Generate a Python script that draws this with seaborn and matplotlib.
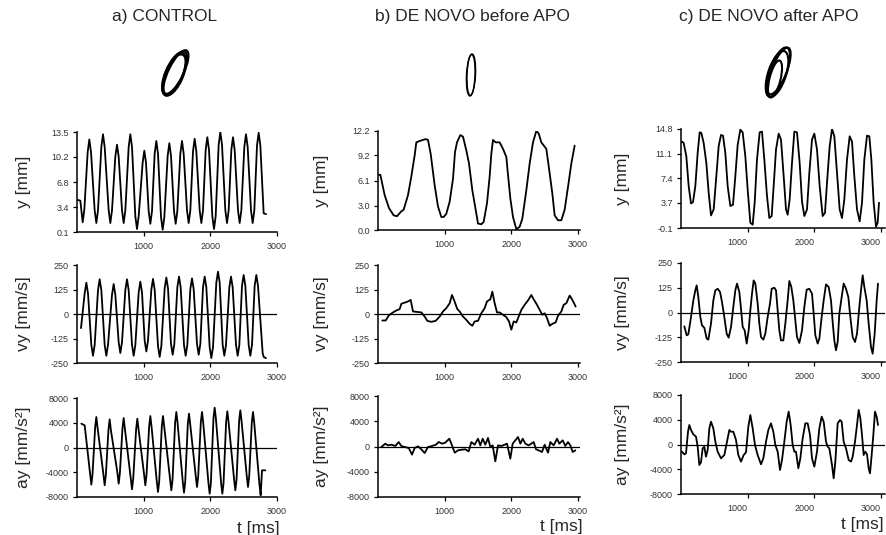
import matplotlib
matplotlib.use("Agg")
import matplotlib.pyplot as plt
from matplotlib.patches import Ellipse
import seaborn as sns

# ---------------- recorded signals (t in ms) ----------------
# a) CONTROL
A_Y_T = [10, 50, 85, 110, 160, 185, 210, 265, 290, 315, 365, 390, 415, 475, 500, 525, 575, 600, 625,
         675, 700, 725, 775, 800, 825, 875, 900, 925, 985, 1010, 1035, 1075, 1100, 1125, 1165, 1190,
         1215, 1260, 1285, 1310, 1360, 1385, 1410, 1455, 1480, 1505, 1550, 1575, 1600, 1650, 1675,
         1700, 1740, 1765, 1790, 1840, 1865, 1890, 1930, 1955, 1980, 2030, 2055, 2080, 2125, 2150,
         2175, 2225, 2250, 2275, 2315, 2340, 2365, 2415, 2440, 2465, 2510, 2535, 2560, 2610, 2635,
         2660, 2700, 2725, 2750, 2800, 2835]
A_Y = [4.4, 4.3, 1.4, 3.1, 10.8, 12.5, 10.8, 3.0, 1.3, 3.0, 11.5, 13.2, 11.5, 3.0, 1.3, 3.0, 10.2,
       11.8, 10.2, 3.0, 1.3, 3.0, 11.5, 13.2, 11.5, 2.2, 0.5, 2.2, 9.4, 11.0, 9.4, 2.9, 1.2, 2.9,
       10.6, 12.3, 10.6, 2.1, 0.4, 2.1, 10.3, 12.0, 10.3, 2.9, 1.2, 2.9, 10.6, 12.3, 10.6, 3.0,
       1.3, 3.0, 10.9, 12.6, 10.9, 3.0, 1.3, 3.0, 11.1, 12.8, 11.1, 2.2, 0.5, 2.2, 11.8, 13.5,
       11.8, 3.0, 1.3, 3.0, 11.1, 12.8, 11.1, 3.0, 1.3, 3.0, 11.5, 13.2, 11.5, 3.0, 1.3,
       3.0, 11.7, 13.4, 11.7, 2.6, 2.5]

A_VY_T = [60, 115, 140, 165, 215, 240, 265, 315, 340, 365, 415, 440, 465, 525, 550, 575, 625, 650,
          675, 725, 750, 775, 825, 850, 875, 925, 950, 975, 1015, 1040, 1065, 1115, 1140, 1165, 1215,
          1240, 1265, 1315, 1340, 1365, 1410, 1435, 1460, 1505, 1530, 1555, 1605, 1630, 1655, 1700,
          1725, 1750, 1800, 1825, 1850, 1890, 1915, 1940, 1990, 2015, 2040, 2090, 2115, 2140, 2185,
          2210, 2235, 2285, 2310, 2335, 2385, 2410, 2435, 2475, 2500, 2525, 2575, 2600, 2625, 2665,
          2690, 2715, 2785, 2800, 2835]
A_VY = [-72, 105, 160, 105, -158, -213, -158, 122, 177, 122, -158, -213, -158, 98, 153, 98, -144,
        -199, -144, 122, 177, 122, -158, -213, -158, 110, 165, 110, -136, -191, -136, 124, 179,
        124, -164, -219, -164, 131, 186, 131, -153, -208, -153, 136, 191, 136, -158, -213, -158,
        127, 182, 127, -153, -208, -153, 136, 191, 136, -170, -225, -170, 161, 216, 161, -158,
        -213, -158, 136, 191, 136, -158, -213, -158, 144, 199, 144, -158, -213, -158, 144,
        199, 144, -200, -219, -225]

A_AY_T = [65, 115, 197, 215, 233, 272, 290, 308, 397, 415, 433, 472, 490, 508, 607, 625, 643, 682,
          700, 718, 807, 825, 843, 887, 905, 923, 1007, 1025, 1043, 1082, 1100, 1118, 1197, 1215,
          1233, 1272, 1290, 1308, 1397, 1415, 1433, 1472, 1490, 1508, 1587, 1605, 1623, 1662, 1680,
          1698, 1782, 1800, 1818, 1857, 1875, 1893, 1972, 1990, 2008, 2047, 2065, 2083, 2162, 2180,
          2198, 2237, 2255, 2273, 2357, 2375, 2393, 2432, 2450, 2468, 2547, 2565, 2583, 2622, 2640,
          2658, 2737, 2755, 2775, 2825]
A_AY = [3850, 3580, -4300, -6000, -4300, 3230, 4930, 3230, -4410, -6110, -4410, 2850, 4550, 2850,
        -4150, -5850, -4150, 3070, 4770, 3070, -5060, -6760, -5060, 2960, 4660, 2960, -4410, -6110,
        -4410, 3390, 5090, 3390, -5490, -7190, -5490, 3390, 5090, 3390, -5220, -6920, -5220, 4040,
        5740, 4040, -5600, -7300, -5600, 3770, 5470, 3770, -4680, -6380, -4680, 4040, 5740, 4040,
        -5760, -7460, -5760, 4740, 6440, 4740, -5760, -7460, -5760, 4150, 5850, 4150, -5220, -6920,
        -5220, 4310, 6010, 4310, -4680, -6380, -4680, 4040, 5740, 4040, -6000, -7730, -3690, -3690]

# b) DE NOVO before APO
B_Y_T = [10, 35, 100, 165, 235, 285, 350, 385, 450, 500, 550, 575, 635, 715, 750, 790, 850, 900,
         950, 985, 1025, 1075, 1125, 1155, 1185, 1235, 1275, 1325, 1365, 1415, 1465, 1500, 1550,
         1585, 1635, 1675, 1700, 1725, 1765, 1825, 1875, 1925, 1950, 1985, 2025, 2075, 2125, 2165,
         2225, 2275, 2325, 2375, 2410, 2450, 2525, 2565, 2615, 2650, 2700, 2750, 2800, 2850, 2900,
         2950]
B_Y = [6.8, 6.8, 4.3, 2.7, 1.8, 1.7, 2.3, 2.5, 4.3, 6.6, 9.2, 10.8, 11.0, 11.2, 11.1, 9.4, 5.5, 2.9,
       1.6, 1.6, 2.0, 3.5, 6.3, 9.6, 10.8, 11.7, 11.5, 9.8, 8.2, 4.9, 2.5, 0.8, 0.7,
       1.0, 3.3, 6.6, 9.4, 11.1, 10.8, 10.8, 10.0, 9.0, 6.8, 3.9, 1.6, 0.1, 0.4, 1.4,
       4.9, 8.2, 10.8, 12.2, 11.9, 10.8, 10.0, 7.6, 4.5, 1.8, 1.2, 1.2, 2.5, 5.3, 8.2,
       10.4]

B_VY_T = [65, 115, 165, 225, 275, 325, 350, 400, 450, 490, 525, 575, 650, 700, 740, 800, 865, 925,
          975, 1025, 1075, 1110, 1140, 1190, 1225, 1275, 1325, 1375, 1415, 1450, 1500, 1550, 1600,
          1635, 1685, 1715, 1750, 1785, 1825, 1875, 1925, 1965, 2000, 2035, 2075, 2115, 2150, 2200,
          2250, 2300, 2335, 2385, 2425, 2465, 2500, 2535, 2575, 2615, 2665, 2700, 2750, 2785, 2825,
          2875, 2915, 2965]
B_VY = [-33, -33, -6, 8, 18, 25, 52, 58, 64, 72, 13, 11, 8, -13, -35, -40, -35, -13,
        13, 30, 55, 97, 72, 25, 13, -13, -30, -50, -60, -38, -35, 4, 30,
        64, 75, 114, 55, 8, 8, -4, -16, -38, -80, -38, -43, -9, 21, 47,
        69, 97, 75, 47, 21, -4, 4, -21, -60, -50, -43, -9, 13, 47, 55,
        94, 72, 38]

B_AY_T = [50, 110, 150, 200, 260, 310, 350, 400, 460, 510, 550, 600, 650, 700, 750, 810, 870, 910,
          960, 1010, 1070, 1110, 1150, 1200, 1260, 1310, 1360, 1400, 1450, 1500, 1535, 1570, 1610,
          1650, 1685, 1720, 1760, 1800, 1850, 1900, 1935, 1985, 2020, 2060, 2100, 2135, 2170, 2210,
          2260, 2300, 2335, 2370, 2410, 2460, 2500, 2550, 2585, 2635, 2685, 2720, 2770, 2810, 2850,
          2885, 2920, 2960]
B_AY = [-80, 450, 180, 290, 80, 710, 80, -80, -240, -1290, -240, 30, -450, -1030, -80, 80, 290, 710,
        450, 610, 1240, 180, -980, -610, -500, -450, -770, 710, 290, 1240, 180, 1240, 290,
        1350, -80, 180, -2350, 180, 80, 290, 450, -1930, 450, 980, 1500, 450, 1240, 450,
        180, 450, 710, -450, -610, -870, 290, -980, 710, 180, 1240, 450, 980, 80, 710,
        180, -870, -610]

# c) DE NOVO after APO
C_Y_T = [15, 40, 80, 115, 150, 180, 215, 250, 280, 305, 340, 380, 415, 450, 490, 530, 565, 600, 630,
         665, 700, 740, 780, 815, 850, 890, 925, 965, 1000, 1040, 1075, 1105, 1140, 1180, 1215, 1250,
         1290, 1325, 1360, 1390, 1425, 1465, 1500, 1540, 1575, 1600, 1630, 1665, 1700, 1740, 1780,
         1815, 1850, 1890, 1925, 1965, 2000, 2040, 2080, 2125, 2160, 2190, 2230, 2265, 2300, 2340,
         2380, 2415, 2450, 2490, 2530, 2565, 2600, 2640, 2680, 2715, 2750, 2790, 2825, 2855, 2890,
         2925, 2950, 2970]
C_Y = [12.9, 12.7, 10.7, 6.2, 3.6, 3.8, 6.2, 11.2, 14.3, 14.2, 12.7, 9.7, 5.2, 1.8, 2.7, 7.7, 12.2,
       13.9, 13.8, 11.2, 6.2, 3.2, 3.4, 7.7, 12.4, 14.7, 14.3, 10.7, 5.7, 0.7, 0.4, 3.7, 10.2, 14.3,
       14.4, 10.2, 4.7, 1.4, 1.7, 6.2, 11.7, 14.1, 13.2, 7.7, 2.7, 1.9, 4.2, 9.7, 14.4, 14.3, 9.7,
       3.9, 1.7, 2.7, 8.2, 13.2, 14.1, 11.7, 6.2, 1.7, 2.2, 6.7, 12.2, 14.8, 13.7, 8.2, 2.7, 1.4,
       4.2, 10.2, 13.7, 12.9, 7.7, 2.7, 0.9, 3.7, 10.2, 13.8, 13.7, 10.2, 3.7, 0.1, 0.7, 3.7]

C_VY_T = [50, 85, 110, 150, 185, 215, 235, 260, 290, 315, 350, 385, 410, 450, 485, 515, 550, 585,
          615, 650, 685, 715, 750, 785, 815, 840, 875, 900, 925, 955, 985, 1015, 1040, 1065, 1090,
          1115, 1150, 1175, 1200, 1235, 1265, 1300, 1335, 1360, 1400, 1425, 1450, 1475, 1500, 1535,
          1565, 1600, 1625, 1655, 1685, 1715, 1740, 1775, 1815, 1850, 1885, 1925, 1965, 1990, 2015,
          2050, 2075, 2110, 2140, 2175, 2215, 2250, 2275, 2300, 2325, 2350, 2375, 2410, 2440, 2475,
          2510, 2540, 2575, 2610, 2640, 2675, 2700, 2725, 2750, 2785, 2815, 2850, 2875, 2905, 2935,
          2955]
C_VY = [-70, -115, -110, -23, 61, 112, 137, 78, -23, -65, -77, -132, -137, -56, 61, 112, 120, 104,
        53, -23, -107, -127, -73, 28, 112, 146, 104, 19, -73, -90, -157, -90, 11, 95, 162,
        146, 45, -56, -124, -137, -107, -23, 45, 120, 125, 112, 11, -90, -141, -141,
        -56, 61, 159, 129, 61, -40, -124, -154, -90, 28, 115, 120, 95, -6, -115,
        -157, -132, -23, 61, 142, 129, 61, -48, -141, -191, -149, -6, 78, 146, 120,
        78, -23, -124, -149, -107, 28, 112, 188, 129, 61, -56, -174, -208, -107, 61,
        146]

C_AY_T = [15, 50, 75, 105, 125, 150, 185, 225, 250, 275, 300, 325, 350, 375, 400, 425, 450, 485,
          515, 550, 600, 650, 690, 725, 750, 785, 825, 860, 900, 940, 975, 1010, 1040, 1075, 1110,
          1150, 1200, 1235, 1275, 1310, 1350, 1385, 1415, 1450, 1485, 1515, 1550, 1585, 1615, 1645,
          1675, 1700, 1725, 1760, 1790, 1825, 1865, 1900, 1935, 1965, 2000, 2040, 2075, 2110, 2140,
          2175, 2200, 2225, 2265, 2290, 2315, 2350, 2385, 2410, 2440, 2475, 2515, 2550, 2575, 2610,
          2640, 2665, 2690, 2715, 2740, 2765, 2790, 2815, 2835, 2860, 2885, 2910, 2935, 2955]
C_AY = [-1160, -1590, -1430, 2070, 3150, 2340, 1640, 1270, -350, -3310, -2880, -620, -350, -1970,
        -890, 2610, 3690, 2610, 460, -1160, -2240, -1700, 460, 2340, 2070, 2070, 730, -1700, -2770,
        -1700, -1270, 2880, 4770, 2610, -80, -1700, -3200, -2240, 460, 2340, 3420, 2070, -80, -1160,
        -4120, -2500, 460, 3690, 5310, 3150, -80, -1160, -1160, -3850, -2240, 1000, 3420, 3420, 1540,
        -2240, -3580, -1160, 2610, 4500, 3690, 460, -350, -620, -3310, -5470, -2770, 3420, 3960, 3690,
        460, -620, -2500, -2770, -1970, 460, 3150, 5580, 4230, 1540, -1700, -1160, -1590, -3850,
        -4660, -1700, 1540, 5310, 4500, 3150]

# ---------------- pen trajectories (ellipse loops, pixel units) ----------------
LOOP_A_CX = [175, 174, 176, 174]
LOOP_A_CY = [73, 74, 72, 75]
LOOP_A_W = [16, 17, 15, 18]
LOOP_A_H = [47, 46, 48, 44]
LOOP_A_ANG = [24, 22, 26, 23]

LOOP_B_CX = [471, 471]
LOOP_B_CY = [75, 75]
LOOP_B_W = [9, 8]
LOOP_B_H = [42, 41]
LOOP_B_ANG = [3, 2]

LOOP_C_CX = [778, 777, 775, 779]
LOOP_C_CY = [72, 74, 79, 71]
LOOP_C_W = [17, 18, 11, 15]
LOOP_C_H = [52, 48, 38, 50]
LOOP_C_ANG = [20, 18, 14, 22]

# ---------------- labels ----------------
TITLES = ["a) CONTROL", "b) DE NOVO before APO", "c) DE NOVO after APO"]
YLABELS = ["y [mm]", "vy [mm/s]", "ay [mm/s²]"]
XLABEL = "t [ms]"
X_TICKS = [1000, 2000, 3000]
Y_TICKLABELS = [
    [["0.1", "3.4", "6.8", "10.2", "13.5"], ["-250", "-125", "0", "125", "250"],
     ["-8000", "-4000", "0", "4000", "8000"]],
    [["0.0", "3.0", "6.1", "9.2", "12.2"], ["-250", "-125", "0", "125", "250"],
     ["-8000", "-4000", "0", "4000", "8000"]],
    [["-0.1", "3.7", "7.4", "11.1", "14.8"], ["-250", "-125", "0", "125", "250"],
     ["-8000", "-4000", "0", "4000", "8000"]],
]

# ---------------- figure ----------------
sns.set_style("ticks")
plt.rcParams["font.family"] = ["Liberation Sans", "DejaVu Sans"]

W, H = 887, 535
fig = plt.figure(figsize=(W / 100, H / 100), dpi=100)


def rect(left, top, right, bottom):
    return [left / W, 1 - bottom / H, (right - left) / W, (bottom - top) / H]


col_x = [(77, 277, 3000), (378, 580, 3030), (681, 885, 3060)]
row_y = [
    [(132, 232), (265, 363), (398, 497)],
    [(131, 230), (265, 363), (396, 497)],
    [(129, 228), (263, 362), (395, 494)],
]
label_x = [24, 322, 623]
xlabel_pos = [(280, 528), (583, 527), (884, 525)]
title_pos = [(165, 16), (472, 16), (769, 16)]
xtick_ha = ["center", "center", "right"]

signals = [
    [(A_Y_T, A_Y), (A_VY_T, A_VY), (A_AY_T, A_AY)],
    [(B_Y_T, B_Y), (B_VY_T, B_VY), (B_AY_T, B_AY)],
    [(C_Y_T, C_Y), (C_VY_T, C_VY), (C_AY_T, C_AY)],
]

tick_font = dict(fontsize=6.5, color="#333333")

for c in range(3):
    x0, x1, tmax = col_x[c]
    for r in range(3):
        top, bottom = row_y[c][r]
        ax = fig.add_axes(rect(x0, top, x1, bottom))
        t, v = signals[c][r]
        sns.lineplot(x=t, y=v, ax=ax, color="black", linewidth=1.3)
        labels = Y_TICKLABELS[c][r]
        yt = [float(s) for s in labels]
        ax.set_ylim(yt[0], yt[-1])
        ax.set_yticks(yt)
        ax.set_yticklabels(labels, **tick_font)
        ax.set_xlim(0, tmax)
        ax.set_xticks(X_TICKS)
        ax.set_xticklabels([str(x) for x in X_TICKS], ha=xtick_ha[c], **tick_font)
        if r > 0:
            ax.axhline(0, color="black", linewidth=0.9)
        for side in ("top", "right"):
            ax.spines[side].set_visible(False)
        for side in ("left", "bottom"):
            ax.spines[side].set_color("black")
            ax.spines[side].set_linewidth(1.1)
        ax.tick_params(axis="both", direction="out", length=3, width=0.9, color="black")
        ax.tick_params(axis="y", pad=3)
        ax.tick_params(axis="x", pad=4)
        ax.set_xlabel("")
        ax.set_ylabel("")
        ax.patch.set_alpha(0)
        fig.text(label_x[c] / W, 1 - (top + bottom) / 2 / H, YLABELS[r], rotation=90,
                 ha="center", va="center", fontsize=12.5)
    fig.text(xlabel_pos[c][0] / W, 1 - xlabel_pos[c][1] / H, XLABEL, ha="right", va="center",
             fontsize=12.5)
    fig.text(title_pos[c][0] / W, 1 - title_pos[c][1] / H, TITLES[c], ha="center", va="center",
             fontsize=12.5)

# pen trajectories above each column
ov = fig.add_axes([0, 0, 1, 1])
ov.set_xlim(0, W)
ov.set_ylim(H, 0)
ov.axis("off")
ov.patch.set_alpha(0)
loops = [
    (LOOP_A_CX, LOOP_A_CY, LOOP_A_W, LOOP_A_H, LOOP_A_ANG, 1.5),
    (LOOP_B_CX, LOOP_B_CY, LOOP_B_W, LOOP_B_H, LOOP_B_ANG, 1.0),
    (LOOP_C_CX, LOOP_C_CY, LOOP_C_W, LOOP_C_H, LOOP_C_ANG, 1.5),
]
for cx, cy, w, h, ang, lw in loops:
    for i in range(len(cx)):
        ov.add_patch(Ellipse((cx[i], cy[i]), w[i], h[i], angle=ang[i], fill=False,
                             edgecolor="black", linewidth=lw))

fig.savefig("out.png", dpi=100)
